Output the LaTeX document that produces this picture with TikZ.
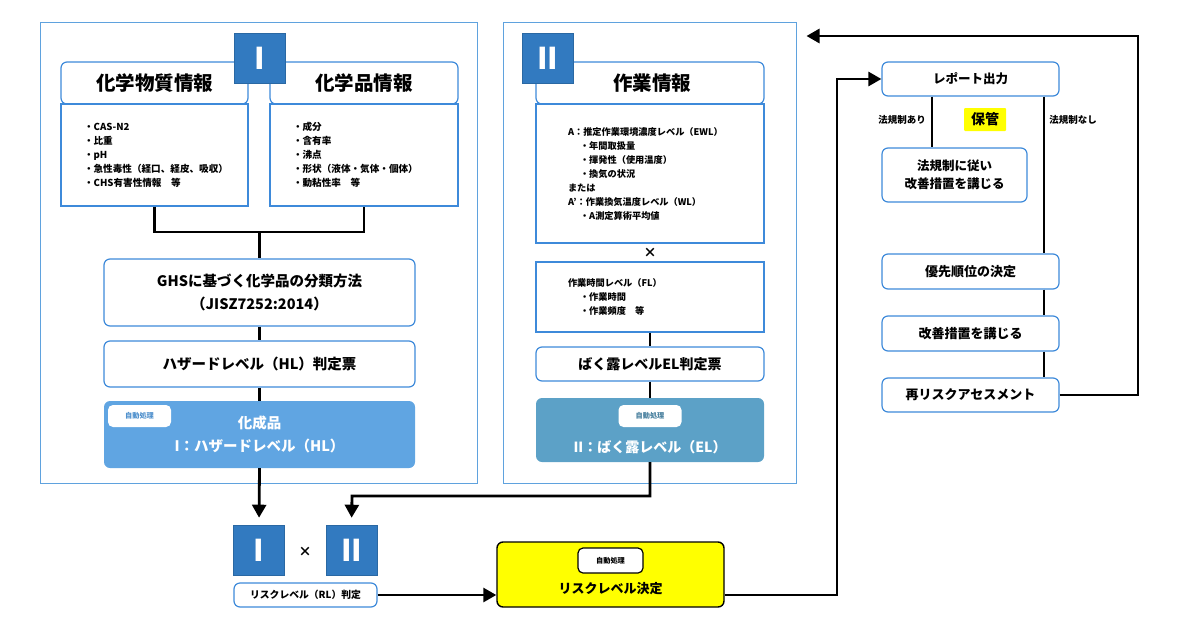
\documentclass[tikz,border=0pt]{standalone}
\usepackage{fontspec}
\setmainfont{Noto Sans CJK JP}
\usetikzlibrary{arrows.meta}

\definecolor{frameblue}{RGB}{95,162,222}
\definecolor{boxblue}{RGB}{62,138,218}
\definecolor{badgeblue}{RGB}{50,122,192}
\definecolor{hlblue}{RGB}{96,165,226}
\definecolor{elblue}{RGB}{92,161,199}
\definecolor{tagblue}{RGB}{80,145,205}
\definecolor{markyellow}{RGB}{255,255,0}

\newcommand{\fs}[2]{\bfseries\fontsize{#1}{#2}\selectfont}

\begin{document}
\begin{tikzpicture}[x=1pt, y=-1pt,
	frame/.style={draw=frameblue, line width=1pt, inner sep=0pt},
	badge/.style={fill=badgeblue, draw=badgeblue!85!black, line width=0.6pt, minimum width=51, minimum height=50, inner sep=0pt, text=white, font=\fs{30}{32}},
	header/.style={draw=boxblue, fill=white, line width=1.2pt, rounded corners=6pt, minimum height=42, inner sep=0pt, font=\fs{19.5}{22}},
	body/.style={draw=boxblue, fill=white, line width=1.2pt, inner sep=0pt, align=left, font=\fs{9.2}{14}},
	roundbox/.style={draw=boxblue, fill=white, line width=1.2pt, rounded corners=6pt, inner sep=0pt, align=center},
	autobox/.style={fill=#1, rounded corners=6pt, inner sep=0pt, text=white, align=center},
	tag/.style={fill=white, rounded corners=5pt, minimum width=63, minimum height=22, inner sep=0pt, font=\fs{7.2}{8}},
	flow/.style={line width=2.8pt},
	arr/.style={-{Triangle[length=13pt,width=14pt]}}
]
	\useasboundingbox (0,0) rectangle (1180,629); % Rand wie im Original

	% I: Gefahr
	\node[frame, minimum width=437, minimum height=461] (frameI) at (258.5,252.5) {};
	\node[header, minimum width=187] (hdrSub) at (154.5,83) {化学物質情報};
	\node[body, minimum width=187, minimum height=102, text width=141, inner xsep=23pt, font=\fs{9.6}{14}] (bodySub) at (154.5,155)
		{・CAS-N2\\・比重\\・pH\\・急性毒性（経口、経皮、吸収）\\・CHS有害性情報　等};
	\node[header, minimum width=188] (hdrProd) at (364,83) {化学品情報};
	\node[body, minimum width=188, minimum height=102, text width=142, inner xsep=23pt, font=\fs{9.6}{14}] (bodyProd) at (364,155)
		{・成分\\・含有率\\・沸点\\・形状（液体・気体・個体）\\・動粘性率　等};
	\node[badge] (badgeI) at (259.5,58) {I};

	\node[roundbox, minimum width=311, minimum height=67, font=\fs{14.5}{23}] (ghs) at (259.5,292.5)
		{GHSに基づく化学品の分類方法\\（JISZ7252:2014）};
	\node[roundbox, minimum width=311, minimum height=46, font=\fs{14.5}{18}] (hlSheet) at (259.5,364) {ハザードレベル（HL）判定票};
	\node[autobox=hlblue, minimum width=311, minimum height=67, font=\fs{14.5}{23}] (hlBox) at (259.5,434.5)
		{化成品\\I：ハザードレベル（HL）};
	\node[tag, text=tagblue] (hlTag) at (139.5,416) {自動処理};

	\coordinate (joinI) at (259.5,232);
	\draw[flow] (bodySub.south) |- (joinI) -| (bodyProd.south);
	\draw[flow] (joinI) -- (ghs.north);
	\draw[flow] (ghs.south) -- (hlSheet.north);
	\draw[flow] (hlSheet.south) -- (hlBox.north);

	% II: Exposition
	\node[frame, minimum width=293, minimum height=461] (frameII) at (649.5,252.5) {};
	\node[header, minimum width=228] (hdrWork) at (650,83) {\hspace*{4pt}作業情報};
	\node[body, minimum width=228, minimum height=139, text width=164, inner xsep=32pt] (bodyWork) at (650,173.5)
		{A：推定作業環境濃度レベル（EWL）\\
		\hspace*{12pt}・年間取扱量\\
		\hspace*{12pt}・揮発性（使用温度）\\
		\hspace*{12pt}・換気の状況\\
		または\\
		A’：作業換気温度レベル（WL）\\
		\hspace*{12pt}・A測定算術平均値};
	\node[badge] (badgeII) at (547.5,58) {II};
	\node[font=\fs{13}{14}] (timesII) at (650,253) {×};
	\node[body, minimum width=228, minimum height=70, text width=164, inner xsep=32pt] (bodyTime) at (650,297)
		{作業時間レベル（FL）\\
		\hspace*{12pt}・作業時間\\
		\hspace*{12pt}・作業頻度　等};
	\node[roundbox, minimum width=228, minimum height=34, font=\fs{14}{16}] (elSheet) at (650,364) {ばく露レベルEL判定票};
	\node[autobox=elblue, minimum width=228, minimum height=64] (elBox) at (650,430) {};
	\node[tag, text=elblue!80!black] (elTag) at (650,416) {自動処理};
	\node[text=white, font=\fs{14}{16}] (elTxt) at (650,447) {II：ばく露レベル（EL）};

	\draw[flow] (bodyTime.south) -- (elSheet.north);
	\draw[flow] (elSheet.south) -- (elBox.north);

	% I x II
	\node[badge] (botI) at (259,550) {I};
	\node[font=\fs{13}{14}] (timesBot) at (305,552) {×};
	\node[badge] (botII) at (351.5,550) {II};
	\node[roundbox, minimum width=143, minimum height=24, font=\fs{9.8}{11}] (rl) at (305.5,595) {リスクレベル（RL）判定};
	\node[fill=markyellow, draw=black, line width=1.4pt, rounded corners=6pt, minimum width=227, minimum height=65] (riskBox) at (610.5,574.5) {};
	\node[tag, draw=black, line width=1.2pt, minimum width=65, minimum height=25] (riskTag) at (610.5,560.5) {自動処理};
	\node[font=\fs{13}{15}] (riskTxt) at (610.5,589) {リスクレベル決定};

	\draw[flow, arr, shorten >=7pt] (hlBox.south) -- (botI.north);
	\coordinate (joinII) at (352,496);
	\draw[flow, arr, shorten >=7pt] (elBox.south) |- (joinII) -- (botII.north);
	\draw[flow, arr] (rl.east) -- (rl.east -| riskBox.west);

	% Massnahmen
	\node[roundbox, minimum width=177, minimum height=34, font=\fs{12.5}{14}] (report) at (970.5,79) {レポート出力};
	\node[roundbox, minimum width=145, minimum height=54, font=\fs{12.5}{18.5}] (lawBox) at (954.5,175) {法規制に従い\\改善措置を講じる};
	\node[roundbox, minimum width=177, minimum height=35, font=\fs{13}{15}] (prio) at (970.5,271.5) {優先順位の決定};
	\node[roundbox, minimum width=177, minimum height=35, font=\fs{13}{15}] (kaizen) at (970.5,333.5) {改善措置を講じる};
	\node[roundbox, minimum width=177, minimum height=34, font=\fs{13}{15}] (reRisk) at (970.5,395) {再リスクアセスメント};
	\node[font=\fs{9.5}{11}] (ari) at (902,120) {法規制あり};
	\node[font=\fs{9.5}{11}] (nashi) at (1073,120) {法規制なし};
	\node[fill=markyellow, rounded corners=1pt, minimum width=42, minimum height=23, inner sep=0pt, font=\fs{14}{16}] (hokan) at (985,119.5) {保管};

	\coordinate (xAri) at (932,0);
	\coordinate (xNashi) at (1044,0);
	\draw[flow] (report.south -| xAri) -- (lawBox.north -| xAri);
	\draw[flow] (report.south -| xNashi) -- (prio.north -| xNashi);
	\draw[flow] (prio.south -| xNashi) -- (kaizen.north -| xNashi);
	\draw[flow] (kaizen.south -| xNashi) -- (reRisk.north -| xNashi);

	\coordinate (loopL) at (837,595);
	\coordinate (loopR) at (1138,36);
	\draw[flow, arr] (rl.east -| riskBox.east) -- (loopL) |- (report.west);
	\draw[flow, arr, shorten >=10pt] (reRisk.east) -| (loopR) -- (loopR -| frameII.east);
\end{tikzpicture}
\end{document}
